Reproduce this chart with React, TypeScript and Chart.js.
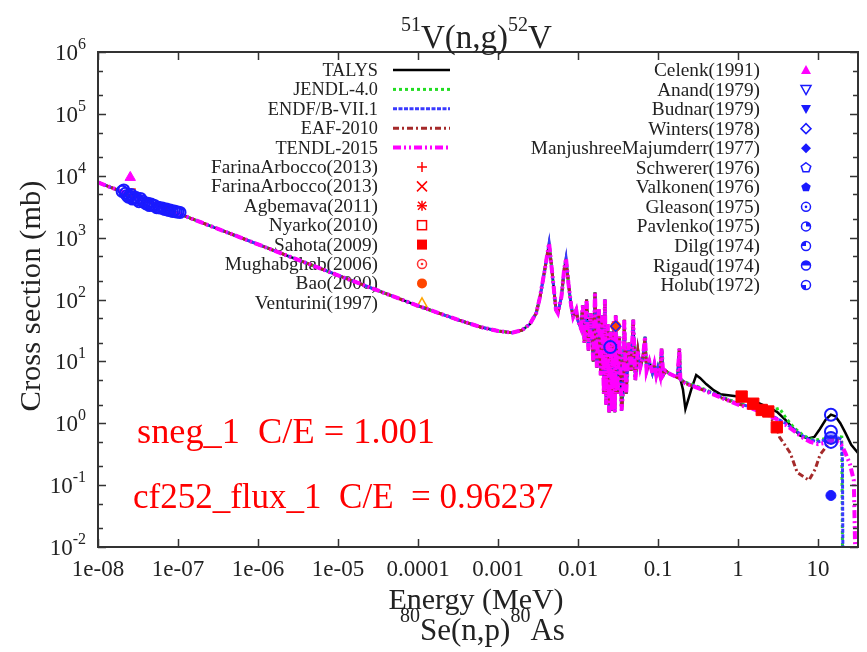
import React, { useEffect, useRef } from 'react';
import { Chart, registerables } from 'chart.js';

Chart.register(...registerables);

// ---------------- Data (energy in MeV, cross section in mb) ----------------
const commonEnergy = [
  1e-8, 1e-5, 1e-4, 3e-4, 6e-4, 1e-3, 1.5e-3, 2e-3, 2.5e-3, 3e-3, 3.35e-3, 3.9e-3, 4.35e-3, 4.9e-3, 5.3e-3,
  5.6e-3, 6.2e-3, 6.7e-3, 7.08e-3, 7.6e-3, 8.2e-3, 8.7e-3, 9.5e-3,
  0.0100, 0.0108, 0.0115, 0.0120, 0.0128, 0.0135, 0.0145, 0.0155, 0.0163, 0.0172, 0.0182, 0.0192, 0.0200,
  0.0210, 0.0217, 0.0225, 0.0235, 0.0245, 0.0255, 0.0265, 0.0280, 0.0288, 0.0296, 0.0310, 0.0330, 0.0350,
  0.0370, 0.0379, 0.0400, 0.0430, 0.0460, 0.0490, 0.0520, 0.0560, 0.0600, 0.0650, 0.0688, 0.0720, 0.0780,
  0.0850, 0.0900, 0.0950, 0.1000, 0.1060, 0.1110, 0.1160, 0.1250, 0.1400, 0.1600, 0.1750, 0.1850, 0.1900,
];
const commonXS = [
  7800, 246, 79, 48, 36, 31, 29, 32, 40, 60, 110, 340, 810, 185, 68,
  60, 110, 300, 460, 180, 80, 52, 68,
  45, 35, 80, 20, 100, 15, 60, 10, 130, 8, 70, 6, 55,
  3, 100, 2, 40, 1.5, 30, 1.6, 45, 1.5, 55, 3, 25, 1.6,
  4, 47, 3, 20, 7, 47, 5, 15, 8, 12, 25, 7, 10,
  6.5, 9, 6, 8, 6, 16, 6, 7, 6.3, 5.8, 5.5, 16, 5.2,
];

const talysTailE = [0.205, 0.22, 0.26, 0.30, 0.335, 0.4, 0.5, 0.6, 0.8, 1.0, 1.5, 2.0, 2.5, 3.07, 4.0, 5.0, 6.0, 7.5, 9.0, 10.5, 12.5, 14.5, 16.5, 19, 22, 26, 31.6];
const talysTailXS = [3.5, 1.7, 3.5, 6.0, 5.4, 4.3, 3.4, 2.95, 2.8, 2.7, 2.35, 2.0, 1.75, 1.53, 1.1, 0.8, 0.63, 0.57, 0.6, 0.8, 1.15, 1.38, 1.3, 1.0, 0.7, 0.45, 0.33];

const jendlTailE = [0.22, 0.335, 0.5, 0.8, 1.0, 1.5, 2.0, 2.6, 3.3, 4.0, 5.0, 6.5, 8.0, 10, 12, 14.5, 17, 19.8, 20.3];
const jendlTailXS = [4.6, 3.8, 3.05, 2.35, 2.15, 1.85, 1.6, 1.6, 1.75, 1.2, 0.85, 0.64, 0.56, 0.54, 0.56, 0.6, 0.62, 0.6, 0.004];

const endfTailE = [0.22, 0.335, 0.5, 0.8, 1.0, 1.5, 2.0, 3.07, 4.0, 5.0, 6.5, 8.0, 10, 12, 14.5, 17, 19.5, 20.2, 20.5];
const endfTailXS = [4.5, 3.7, 3.0, 2.3, 2.1, 1.8, 1.55, 1.2, 0.98, 0.8, 0.62, 0.54, 0.5, 0.53, 0.58, 0.6, 0.55, 0.25, 0.004];

const eafTailE = [0.22, 0.335, 0.5, 0.8, 1.0, 1.5, 2.0, 2.5, 3.0, 3.3, 4.5, 5.5, 7.7, 9.2, 10.6, 13.6, 15, 20];
const eafTailXS = [4.4, 3.6, 2.9, 2.25, 2.05, 1.75, 1.5, 1.3, 0.9, 0.6, 0.33, 0.16, 0.12, 0.18, 0.31, 0.47, 0.55, 0.5];

const tendlTailE = [0.22, 0.335, 0.5, 0.8, 1.0, 1.5, 2.0, 3.07, 4.0, 5.0, 6.5, 8.0, 10, 12, 14.5, 17, 19.5, 22, 25, 28, 29.5];
const tendlTailXS = [4.4, 3.6, 2.9, 2.25, 2.0, 1.72, 1.5, 1.15, 0.93, 0.75, 0.58, 0.5, 0.46, 0.48, 0.52, 0.5, 0.45, 0.33, 0.22, 0.12, 0.004];

// experimental points
const thermalE = [
  2.0e-8, 2.1e-8, 2.2e-8, 2.3e-8, 2.4e-8, 2.5e-8, 2.6e-8, 2.7e-8, 2.8e-8, 2.95e-8, 3.1e-8, 3.25e-8, 3.4e-8, 3.6e-8,
  3.8e-8, 4.0e-8, 4.2e-8, 4.4e-8, 4.6e-8, 4.85e-8, 5.1e-8, 5.4e-8, 5.7e-8, 6.0e-8, 6.4e-8, 6.8e-8, 7.2e-8, 7.6e-8,
  8.0e-8, 8.5e-8, 9.0e-8, 9.5e-8, 1.0e-7, 1.06e-7,
];
const thermalXS = [
  5600, 5900, 5200, 4800, 4500, 4700, 5000, 4200, 4300, 4500, 4100, 3800, 4300, 3900,
  3700, 3500, 3600, 3300, 3500, 3350, 3300, 3050, 3100, 3000, 3000, 2850, 2900, 2750,
  2800, 2650, 2700, 2600, 2600, 2550,
];
const celenkE = [2.53e-8];
const celenkXS = [9400];
const mughabghabE = [2.6e-8];
const mughabghabXS = [5300];
const sahotaE = [1.11, 1.55, 1.98, 2.39, 3.05];
const sahotaXS = [2.7, 2.07, 1.64, 1.55, 0.86];
const gleasonE = [14.5, 0.0253];
const gleasonXS = [1.37, 17];
const pavlenkoE = [14.5];
const pavlenkoXS = [0.73];
const dilgE = [14.5];
const dilgXS = [0.58];
const rigaudE = [14.5];
const rigaudXS = [0.5];
const valkonenE = [14.5];
const valkonenXS = [0.068];
const baoE = [0.0296];
const baoXS = [37];
const wintersE = [0.0296];
const wintersXS = [37];

// axis ticks
const xTickValues = [1e-8, 1e-7, 1e-6, 1e-5, 1e-4, 1e-3, 1e-2, 1e-1, 1, 10];
const xTickLabels = ['1e-08', '1e-07', '1e-06', '1e-05', '0.0001', '0.001', '0.01', '0.1', '1', '10'];
const yTickExponents = [-2, -1, 0, 1, 2, 3, 4, 5, 6];

// legends
const lineLegendNames = ['TALYS', 'JENDL-4.0', 'ENDF/B-VII.1', 'EAF-2010', 'TENDL-2015'];
const leftPointLegendNames = ['FarinaArbocco(2013)', 'FarinaArbocco(2013)', 'Agbemava(2011)', 'Nyarko(2010)', 'Sahota(2009)', 'Mughabghab(2006)', 'Bao(2000)', 'Venturini(1997)'];
const rightLegendNames = ['Celenk(1991)', 'Anand(1979)', 'Budnar(1979)', 'Winters(1978)', 'ManjushreeMajumderr(1977)', 'Schwerer(1976)', 'Valkonen(1976)', 'Gleason(1975)', 'Pavlenko(1975)', 'Dilg(1974)', 'Rigaud(1974)', 'Holub(1972)'];

// ---------------- Styles ----------------
const SERIF = '"Liberation Serif","Times New Roman",Times,serif';
const BLUE = '#1a1aff';
const RED = '#ff0000';
const LINE_STYLES = [
  { color: '#000000', width: 2.5, dash: [] as number[] },
  { color: '#22dd22', width: 3, dash: [3, 3] },
  { color: '#3a3aff', width: 3, dash: [4, 1.5] },
  { color: '#a52a2a', width: 3, dash: [6, 3, 2, 3] },
  { color: '#ff00ff', width: 4, dash: [8, 3, 2, 3, 2, 3] },
];
const LEFT_MARKERS = [
  { kind: 'plus', color: RED },
  { kind: 'cross', color: RED },
  { kind: 'star', color: RED },
  { kind: 'sq', color: RED },
  { kind: 'sqF', color: RED },
  { kind: 'circDot', color: '#ff3333' },
  { kind: 'circF', color: '#ff4500' },
  { kind: 'tri', color: '#ffa500' },
];
const RIGHT_MARKERS = [
  { kind: 'triF', color: '#ff00ff' },
  { kind: 'itri', color: BLUE },
  { kind: 'itriF', color: BLUE },
  { kind: 'dia', color: BLUE },
  { kind: 'diaF', color: BLUE },
  { kind: 'pent', color: BLUE },
  { kind: 'pentF', color: BLUE },
  { kind: 'circDot', color: BLUE },
  { kind: 'q1', color: BLUE },
  { kind: 'q2', color: BLUE },
  { kind: 'half', color: BLUE },
  { kind: 'q3', color: BLUE },
];

const zip = (E: number[], S: number[]) => E.map((x, i) => ({ x, y: S[i] }));

function lineDataset(label: string, E: number[], S: number[], idx: number) {
  const st = LINE_STYLES[idx];
  return {
    label,
    data: zip(E, S),
    borderColor: st.color,
    borderWidth: st.width,
    borderDash: st.dash,
    pointRadius: 0,
    fill: false,
    tension: 0,
    showLine: true,
  };
}

function pointDataset(label: string, E: number[], S: number[], style: string, radius: number, border: string, bg: string, bw = 2, rotation = 0) {
  return {
    label,
    data: zip(E, S),
    showLine: false,
    pointStyle: style,
    pointRadius: radius,
    pointRotation: rotation,
    pointBorderColor: border,
    pointBackgroundColor: bg,
    pointBorderWidth: bw,
    borderColor: border,
    backgroundColor: bg,
  };
}

// ---------------- Drawing helpers ----------------
function drawText(ctx: CanvasRenderingContext2D, s: string, x: number, y: number, size: number, color: string, align: 'left' | 'right' | 'center', fitW?: number) {
  ctx.save();
  ctx.font = `${size}px ${SERIF}`;
  ctx.fillStyle = color;
  ctx.textBaseline = 'alphabetic';
  ctx.textAlign = 'left';
  const w = ctx.measureText(s).width;
  const sx = fitW ? fitW / w : 1;
  const dw = w * sx;
  const x0 = align === 'left' ? x : align === 'right' ? x - dw : x - dw / 2;
  ctx.translate(x0, y);
  ctx.scale(sx, 1);
  ctx.fillText(s, 0, 0);
  ctx.restore();
}

type Part = { t: string; s: number; dy: number };
function drawRich(ctx: CanvasRenderingContext2D, parts: Part[], x: number, y: number, align: 'left' | 'right' | 'center', color: string) {
  ctx.save();
  ctx.fillStyle = color;
  ctx.textBaseline = 'alphabetic';
  ctx.textAlign = 'left';
  let total = 0;
  const ws = parts.map((p) => {
    ctx.font = `${p.s}px ${SERIF}`;
    const w = ctx.measureText(p.t).width;
    total += w;
    return w;
  });
  let cx = align === 'right' ? x - total : align === 'center' ? x - total / 2 : x;
  parts.forEach((p, i) => {
    ctx.font = `${p.s}px ${SERIF}`;
    ctx.fillText(p.t, cx, y + p.dy);
    cx += ws[i];
  });
  ctx.restore();
}

function polygon(ctx: CanvasRenderingContext2D, pts: number[][]) {
  ctx.beginPath();
  pts.forEach((p, i) => (i === 0 ? ctx.moveTo(p[0], p[1]) : ctx.lineTo(p[0], p[1])));
  ctx.closePath();
}

function marker(ctx: CanvasRenderingContext2D, kind: string, x: number, y: number, color: string) {
  const r = 5;
  ctx.save();
  ctx.strokeStyle = color;
  ctx.fillStyle = color;
  ctx.lineWidth = 1.5;
  ctx.setLineDash([]);
  const seg = (x1: number, y1: number, x2: number, y2: number) => {
    ctx.beginPath();
    ctx.moveTo(x1, y1);
    ctx.lineTo(x2, y2);
    ctx.stroke();
  };
  const circle = () => {
    ctx.beginPath();
    ctx.arc(x, y, r - 0.5, 0, Math.PI * 2);
  };
  const sector = (a0: number, a1: number) => {
    ctx.beginPath();
    ctx.moveTo(x, y);
    ctx.arc(x, y, r - 0.5, a0, a1);
    ctx.closePath();
    ctx.fill();
  };
  switch (kind) {
    case 'plus':
      seg(x - r, y, x + r, y);
      seg(x, y - r, x, y + r);
      break;
    case 'cross':
      seg(x - r, y - r, x + r, y + r);
      seg(x - r, y + r, x + r, y - r);
      break;
    case 'star':
      seg(x - r, y, x + r, y);
      seg(x, y - r, x, y + r);
      seg(x - r + 1, y - r + 1, x + r - 1, y + r - 1);
      seg(x - r + 1, y + r - 1, x + r - 1, y - r + 1);
      break;
    case 'sq':
      ctx.strokeRect(x - r + 0.5, y - r + 0.5, 2 * r - 1, 2 * r - 1);
      break;
    case 'sqF':
      ctx.fillRect(x - r, y - r, 2 * r, 2 * r);
      break;
    case 'circDot':
      circle();
      ctx.stroke();
      ctx.beginPath();
      ctx.arc(x, y, 1.3, 0, Math.PI * 2);
      ctx.fill();
      break;
    case 'circF':
      ctx.beginPath();
      ctx.arc(x, y, r, 0, Math.PI * 2);
      ctx.fill();
      break;
    case 'tri':
    case 'triF':
      polygon(ctx, [[x, y - r], [x + r, y + r - 1], [x - r, y + r - 1]]);
      kind === 'tri' ? ctx.stroke() : ctx.fill();
      break;
    case 'itri':
    case 'itriF':
      polygon(ctx, [[x, y + r], [x + r, y - r + 1], [x - r, y - r + 1]]);
      kind === 'itri' ? ctx.stroke() : ctx.fill();
      break;
    case 'dia':
    case 'diaF':
      polygon(ctx, [[x, y - r], [x + r, y], [x, y + r], [x - r, y]]);
      kind === 'dia' ? ctx.stroke() : ctx.fill();
      break;
    case 'pent':
    case 'pentF': {
      const pts: number[][] = [];
      for (let i = 0; i < 5; i++) {
        const a = -Math.PI / 2 + (i * 2 * Math.PI) / 5;
        pts.push([x + r * Math.cos(a), y + r * Math.sin(a)]);
      }
      polygon(ctx, pts);
      kind === 'pent' ? ctx.stroke() : ctx.fill();
      break;
    }
    case 'q1':
      circle();
      ctx.stroke();
      sector(-Math.PI / 2, 0);
      break;
    case 'q2':
      circle();
      ctx.stroke();
      sector(Math.PI, Math.PI * 1.5);
      break;
    case 'half':
      circle();
      ctx.stroke();
      sector(Math.PI, Math.PI * 2);
      break;
    case 'q3':
      circle();
      ctx.stroke();
      sector(Math.PI / 2, Math.PI);
      break;
  }
  ctx.restore();
}

const decorPlugin = {
  id: 'decor',
  beforeDatasetsDraw(chart: any) {
    const ctx: CanvasRenderingContext2D = chart.ctx;
    // left legend
    const leftNames = [...lineLegendNames, ...leftPointLegendNames];
    leftNames.forEach((name, i) => {
      const y = 70 + i * 19.4;
      const isLine = i < lineLegendNames.length;
      drawText(ctx, name, 378, y + 6, isLine ? 18.3 : 19.3, '#222', 'right');
      if (isLine) {
        const st = LINE_STYLES[i];
        ctx.save();
        ctx.strokeStyle = st.color;
        ctx.lineWidth = st.width;
        ctx.setLineDash(st.dash);
        ctx.beginPath();
        ctx.moveTo(393, y);
        ctx.lineTo(450, y);
        ctx.stroke();
        ctx.restore();
      } else {
        const m = LEFT_MARKERS[i - lineLegendNames.length];
        marker(ctx, m.kind, 422, y, m.color);
      }
    });
    // right legend
    rightLegendNames.forEach((name, i) => {
      const y = 70 + i * 19.55;
      drawText(ctx, name, 760, y + 6, 19.3, '#222', 'right');
      const m = RIGHT_MARKERS[i];
      marker(ctx, m.kind, 806, y, m.color);
    });
  },
  afterDatasetsDraw(chart: any) {
    const ctx: CanvasRenderingContext2D = chart.ctx;
    const { left, right, top, bottom } = chart.chartArea;
    const xs = chart.scales.x;
    const ys = chart.scales.y;
    ctx.save();
    ctx.strokeStyle = '#333';
    ctx.lineWidth = 1.5;
    ctx.setLineDash([]);
    // x major ticks top & bottom
    xTickValues.forEach((v) => {
      const px = Math.round(xs.getPixelForValue(v)) + 0.5;
      ctx.beginPath();
      ctx.moveTo(px, bottom);
      ctx.lineTo(px, bottom - 8);
      ctx.moveTo(px, top);
      ctx.lineTo(px, top + 8);
      ctx.stroke();
    });
    // y ticks major + minor (2, 5)
    yTickExponents.forEach((e) => {
      const py = Math.round(ys.getPixelForValue(Math.pow(10, e))) + 0.5;
      ctx.beginPath();
      ctx.moveTo(left, py);
      ctx.lineTo(left + 8, py);
      ctx.moveTo(right, py);
      ctx.lineTo(right - 8, py);
      ctx.stroke();
      if (e < 6) {
        [2, 5].forEach((m) => {
          const pm = Math.round(ys.getPixelForValue(m * Math.pow(10, e))) + 0.5;
          ctx.beginPath();
          ctx.moveTo(left, pm);
          ctx.lineTo(left + 5, pm);
          ctx.moveTo(right, pm);
          ctx.lineTo(right - 5, pm);
          ctx.stroke();
        });
      }
    });
    // frame
    ctx.lineWidth = 2;
    ctx.strokeRect(left, top, right - left, bottom - top);
    ctx.restore();

    // tick labels
    xTickValues.forEach((v, i) => {
      drawText(ctx, xTickLabels[i], xs.getPixelForValue(v), 576, 23, '#222', 'center');
    });
    yTickExponents.forEach((e) => {
      const py = ys.getPixelForValue(Math.pow(10, e));
      drawRich(ctx, [{ t: '10', s: 23, dy: 0 }, { t: String(e), s: 16, dy: -11 }], 86, py + 8, 'right', '#222');
    });

    // title
    drawRich(ctx, [
      { t: '51', s: 20, dy: -17 },
      { t: 'V(n,g)', s: 33, dy: 0 },
      { t: '52', s: 20, dy: -17 },
      { t: 'V', s: 33, dy: 0 },
    ], 401, 48, 'left', '#222');

    // axis titles
    drawText(ctx, 'Energy (MeV)', 476, 609, 30, '#222', 'center');
    drawRich(ctx, [
      { t: '80', s: 20, dy: -18 },
      { t: 'Se(n,p)', s: 31, dy: 0 },
      { t: '80', s: 20, dy: -18 },
      { t: 'As', s: 31, dy: 0 },
    ], 400, 640, 'left', '#222');
    ctx.save();
    ctx.translate(40, 296);
    ctx.rotate(-Math.PI / 2);
    drawText(ctx, 'Cross section (mb)', 0, 0, 29, '#222', 'center', 231);
    ctx.restore();

    // red annotations
    drawText(ctx, 'sneg_1  C/E = 1.001', 137, 443, 35, RED, 'left', 298);
    drawText(ctx, 'cf252_flux_1  C/E  = 0.96237', 133, 508, 35, RED, 'left');
  },
};

export default function App() {
  const ref = useRef<HTMLCanvasElement>(null);
  useEffect(() => {
    if (!ref.current) return;
    const datasets: any[] = [
      pointDataset('Winters(1978)', wintersE, wintersXS, 'rectRot', 5, BLUE, 'rgba(0,0,0,0)', 1.5),
      pointDataset('Bao(2000)', baoE, baoXS, 'circle', 5, '#ff4500', '#ff4500', 1),
      pointDataset('Sahota(2009)', sahotaE, sahotaXS, 'rect', 8, RED, RED, 1),
      pointDataset('Gleason(1975)', gleasonE, gleasonXS, 'circle', 6, BLUE, 'rgba(0,0,0,0)', 2),
      pointDataset('Pavlenko(1975)', pavlenkoE, pavlenkoXS, 'circle', 6, BLUE, 'rgba(0,0,0,0)', 2),
      pointDataset('Dilg(1974)', dilgE, dilgXS, 'circle', 6, BLUE, 'rgba(60,60,255,0.5)', 2),
      pointDataset('Rigaud(1974)', rigaudE, rigaudXS, 'circle', 6, BLUE, 'rgba(0,0,0,0)', 2),
      pointDataset('Valkonen(1976)', valkonenE, valkonenXS, 'circle', 5, BLUE, BLUE, 1),
      pointDataset('Celenk(1991)', celenkE, celenkXS, 'triangle', 6, '#ff00ff', '#ff00ff', 1),
      pointDataset('Holub(1972)', thermalE, thermalXS, 'circle', 5.5, BLUE, 'rgba(0,0,0,0)', 2),
      pointDataset('Mughabghab(2006)', mughabghabE, mughabghabXS, 'rect', 5, '#ff3300', 'rgba(0,0,0,0)', 2),
      lineDataset('TENDL-2015', [...commonEnergy, ...tendlTailE], [...commonXS, ...tendlTailXS], 4),
      lineDataset('EAF-2010', [...commonEnergy, ...eafTailE], [...commonXS, ...eafTailXS], 3),
      lineDataset('ENDF/B-VII.1', [...commonEnergy, ...endfTailE], [...commonXS, ...endfTailXS], 2),
      lineDataset('JENDL-4.0', [...commonEnergy, ...jendlTailE], [...commonXS, ...jendlTailXS], 1),
      lineDataset('TALYS', [...commonEnergy, ...talysTailE], [...commonXS, ...talysTailXS], 0),
    ];
    const chart = new Chart(ref.current, {
      type: 'line',
      data: { datasets },
      options: {
        animation: false,
        responsive: false,
        devicePixelRatio: 1,
        events: [],
        layout: { padding: { left: 98, top: 52, right: 9, bottom: 105 } },
        scales: {
          x: { type: 'logarithmic', min: 1e-8, max: 31.6, display: false },
          y: { type: 'logarithmic', min: 0.01, max: 1e6, display: false },
        },
        plugins: {
          legend: { display: false },
          tooltip: { enabled: false },
          title: { display: false },
        },
      } as any,
      plugins: [decorPlugin as any],
    });
    return () => chart.destroy();
  }, []);
  return (
    <div style={{ position: 'absolute', left: 0, top: 0, width: 867, height: 652, background: '#fff' }}>
      <canvas ref={ref} width={867} height={652} style={{ display: 'block', width: 867, height: 652 }} />
    </div>
  );
}
